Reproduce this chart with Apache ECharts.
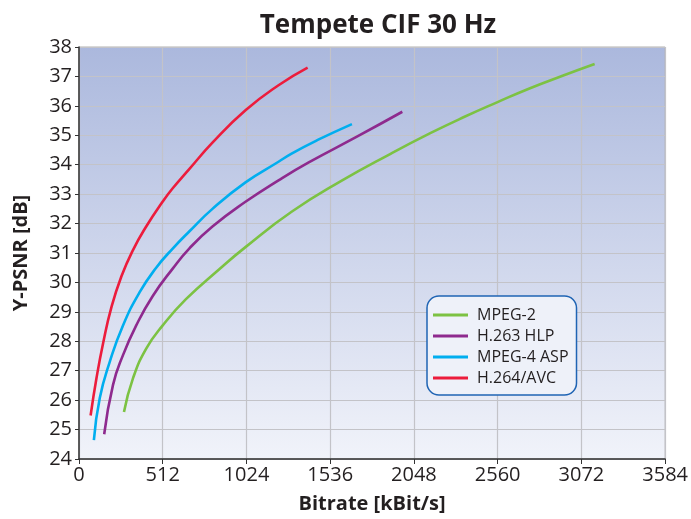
<!DOCTYPE html>
<html><head><meta charset="utf-8">
<script src="https://cdn.jsdelivr.net/npm/echarts@6/dist/echarts.min.js"></script>
<style>html,body{margin:0;padding:0;background:#fff}#c{width:691px;height:519px}</style>
</head><body><div id="c"></div>
<script>
const seriesNames = ['MPEG-2', 'H.263 HLP', 'MPEG-4 ASP', 'H.264/AVC'];
const xTicks = [0, 512, 1024, 1536, 2048, 2560, 3072, 3584];
const yTicks = [24, 25, 26, 27, 28, 29, 30, 31, 32, 33, 34, 35, 36, 37, 38];
const mpeg2 = [[275,25.6],[330,26.74],[411,27.75],[512,28.54],[654,29.43],[856,30.44],[1018,31.2],[1300,32.4],[1604,33.45],[1908,34.38],[2151,35.08],[2354,35.62],[2556,36.12],[2758,36.6],[2961,37.03],[3153,37.42]];
const h263 = [[154,24.84],[208,26.52],[269,27.53],[350,28.54],[451,29.54],[573,30.47],[674,31.15],[816,31.9],[1018,32.74],[1220,33.47],[1402,34.07],[1705,34.97],[1977,35.8]];
const mpeg4 = [[91,24.64],[127,26.07],[188,27.3],[269,28.54],[370,29.66],[472,30.5],[573,31.15],[674,31.73],[816,32.5],[1018,33.4],[1220,34.1],[1300,34.38],[1463,34.85],[1669,35.38]];
const h264 = [[71,25.48],[107,26.75],[148,27.95],[198,29.15],[259,30.2],[330,31.1],[411,31.9],[512,32.75],[573,33.2],[674,33.85],[816,34.75],[1018,35.85],[1220,36.7],[1398,37.3]];
const seriesData = [mpeg2, h263, mpeg4, h264];
const colors = ['#7cc243', '#8e2a8e', '#00aeef', '#ec1c3c'];

const FONT = '"Open Sans", "Noto Sans", sans-serif';
const chart = echarts.init(document.getElementById('c'), null, {renderer: 'canvas'});
chart.setOption({
  animation: false,
  color: colors,
  title: {
    text: 'Tempete CIF 30 Hz', left: 373, top: 8, textAlign: 'center',
    textStyle: {fontFamily: FONT, fontSize: 26, fontWeight: 'bold', color: '#231f20'}
  },
  grid: {
    left: 79, right: 22, top: 47, bottom: 57, show: true,
    borderColor: '#b0b0b0', borderWidth: 1,
    backgroundColor: new echarts.graphic.LinearGradient(0, 0, 0, 1, [
      {offset: 0, color: '#abb8dd'}, {offset: 1, color: '#f1f3fa'}
    ])
  },
  legend: {
    data: seriesNames, orient: 'vertical', left: 427, top: 296,
    backgroundColor: '#eef1f9', borderColor: '#1f64b4', borderWidth: 1.5, borderRadius: 12,
    padding: [11, 8, 9, 6], itemGap: 5, itemWidth: 35, itemHeight: 3,
    icon: 'rect',
    textStyle: {fontFamily: FONT, fontSize: 16, lineHeight: 16, color: '#231f20', padding: [0, 0, 0, 4]}
  },
  xAxis: {
    type: 'value', min: xTicks[0], max: xTicks[xTicks.length - 1], interval: 512,
    name: 'Bitrate [kBit/s]', nameLocation: 'middle', nameGap: 35,
    nameTextStyle: {fontFamily: FONT, fontSize: 20, fontWeight: 'bold', color: '#231f20'},
    axisLine: {lineStyle: {color: '#333', width: 1.5}},
    axisTick: {show: true, length: 5, lineStyle: {color: '#333'}},
    axisLabel: {fontFamily: FONT, fontSize: 20, color: '#231f20', margin: 6, formatter: v => String(v)},
    splitLine: {show: true, lineStyle: {color: '#c3c3c8', width: 1.2}}
  },
  yAxis: {
    type: 'value', min: yTicks[0], max: yTicks[yTicks.length - 1], interval: 1,
    name: 'Y-PSNR [dB]', nameLocation: 'middle', nameGap: 48,
    nameTextStyle: {fontFamily: FONT, fontSize: 20, fontWeight: 'bold', color: '#231f20'},
    axisLine: {show: true, lineStyle: {color: '#333', width: 1.5}},
    axisTick: {show: true, length: 4, lineStyle: {color: '#333'}},
    axisLabel: {fontFamily: FONT, fontSize: 20, color: '#231f20', margin: 7, formatter: v => String(v)},
    splitLine: {show: true, lineStyle: {color: '#c3c3c8', width: 1.2}}
  },
  series: seriesNames.map((n, i) => ({
    name: n, type: 'line', data: seriesData[i], smooth: 0.5, symbol: 'none',
    lineStyle: {width: 2.6, color: colors[i]}, itemStyle: {color: colors[i]}
  }))
});
</script></body></html>
